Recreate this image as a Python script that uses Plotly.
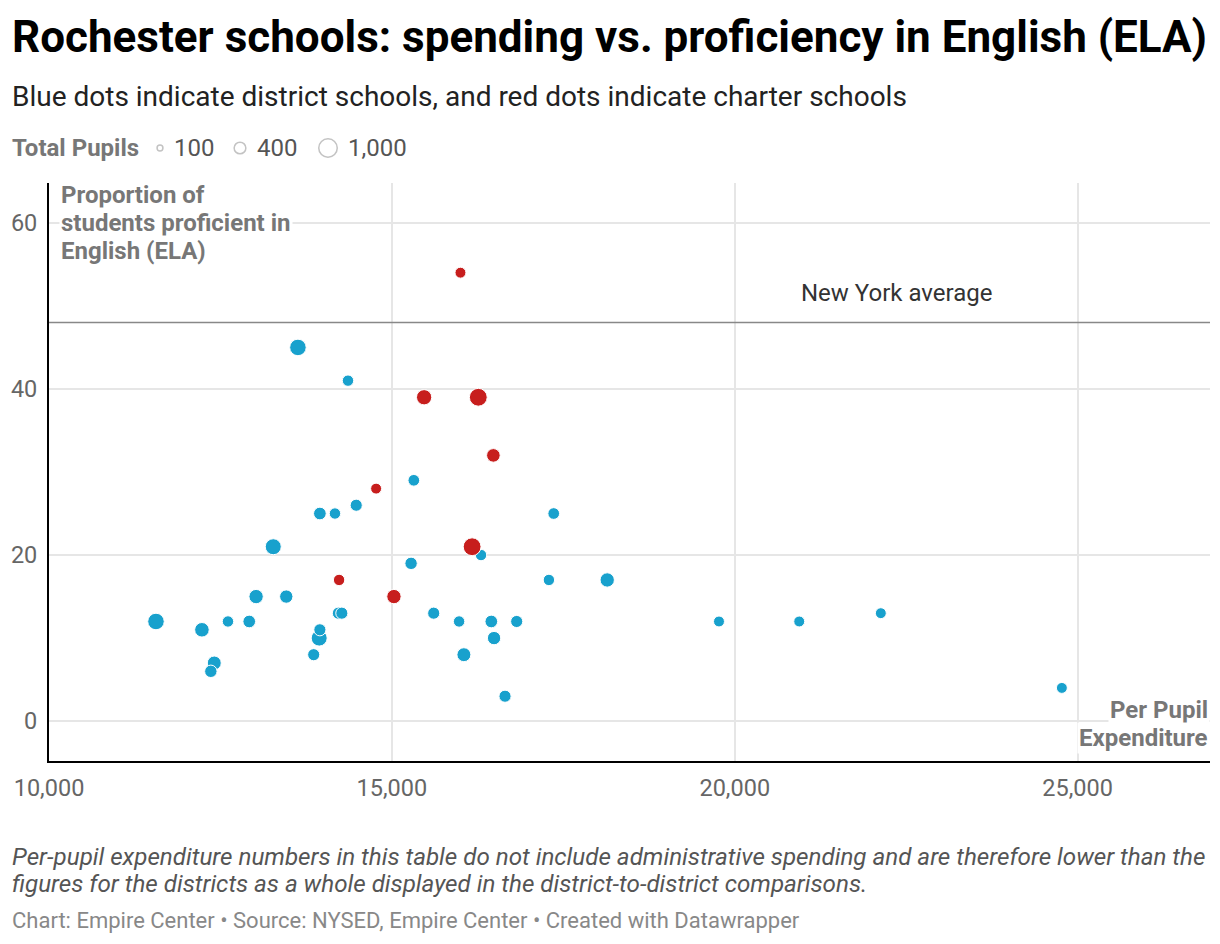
import plotly.graph_objects as go

# district schools (blue)
district_spend = [13630, 14360, 15320, 13950, 14170, 14480, 17360, 13270, 16300, 15280,
                  17290, 18140, 11560, 12230, 12610, 12920, 13020, 13460, 12410, 12360,
                  13860, 13950, 13940, 14220, 14270, 15610, 15980, 16050, 16450, 16490,
                  16820, 16650, 19770, 20940, 22130, 24770]
district_prof = [45, 41, 29, 25, 25, 26, 25, 21, 20, 19,
                 17, 17, 12, 11, 12, 12, 15, 15, 7, 6,
                 8, 11, 10, 13, 13, 13, 12, 8, 12, 10,
                 12, 3, 12, 12, 13, 4]
district_pupils = [800, 380, 400, 470, 380, 430, 400, 750, 380, 450,
                   380, 600, 800, 620, 380, 470, 600, 520, 570, 450,
                   430, 430, 750, 430, 430, 430, 380, 570, 470, 520,
                   430, 430, 350, 350, 350, 350]

# charter schools (red)
charter_spend = [16000, 15470, 16260, 16480, 14770, 16170, 14230, 15030]
charter_prof = [54, 39, 39, 32, 28, 21, 17, 15]
charter_pupils = [350, 680, 930, 540, 350, 930, 380, 600]

ny_average = 48

legend_pupils = [100, 400, 1000]
legend_labels = ["100", "400", "1,000"]
legend_pos = [160, 240, 328]

x_ticks = [10000, 15000, 20000, 25000]
x_ticktext = ["10,000", "15,000", "20,000", "25,000"]
y_ticks = [0, 20, 40, 60]

BLUE = "#18a1cd"
RED = "#c71e1d"
FONT = "Roboto"
sizeref = 2 * 1000 / 18.5 ** 2

H = 641  # plot-area height in px (paper)


def py(pix):
    # page pixel row -> paper y
    return (761 - pix) / H


def sorted_by_size(xs, ys, ss):
    rows = sorted(zip(xs, ys, ss), key=lambda r: -r[2])
    return [r[0] for r in rows], [r[1] for r in rows], [r[2] for r in rows]


fig = go.Figure()

for xs, ys, ss, col, name in [(district_spend, district_prof, district_pupils, BLUE, "District"),
                              (charter_spend, charter_prof, charter_pupils, RED, "Charter")]:
    sx, sy, ssz = sorted_by_size(xs, ys, ss)
    fig.add_trace(go.Scatter(
        x=sx, y=sy, mode="markers", name=name,
        marker=dict(size=ssz, sizemode="area", sizeref=sizeref, color=col,
                    line=dict(color="white", width=1), opacity=1),
        showlegend=False, hoverinfo="skip"))

# size legend on its own hidden axis
fig.add_trace(go.Scatter(
    x=legend_pos, y=[0, 0, 0], xaxis="x2", yaxis="y2", mode="markers",
    marker=dict(size=legend_pupils, sizemode="area", sizeref=sizeref,
                color="rgba(0,0,0,0)", line=dict(color="#aaaaaa", width=1.5)),
    showlegend=False, hoverinfo="skip"))

top = py(183)

fig.add_hline(y=ny_average, line=dict(color="#888888", width=1.5))

ann = []


def text(t, x, y, size, color, xanchor="left", yanchor="middle", **kw):
    ann.append(dict(text=t, x=x, y=y, xref=kw.pop("xref", "paper"), yref=kw.pop("yref", "paper"),
                    xanchor=xanchor, yanchor=yanchor, showarrow=False,
                    font=dict(family=FONT, size=size, color=color), **kw))


text("<b>Rochester schools: spending vs. proficiency in English (ELA)</b>", 0, py(37), 44, "#000000")
text("Blue dots indicate district schools, and red dots indicate charter schools", 0, py(97), 28, "#222222")
text("<b>Total Pupils</b>", 0, py(148), 24, "#777777")
for lab, pos, p in zip(legend_labels, legend_pos, legend_pupils):
    r = (2 * p / sizeref) ** 0.5 / 2
    text(lab, pos, 0, 24, "#555555", xref="x2", yref="y2", xshift=r + 9)

for i, line in enumerate(["Proportion of", "students proficient in", "English (ELA)"]):
    text("<b>%s</b>" % line, (59 - 10) / 1200, py(195 + 28 * i), 24, "#777777", bgcolor="white")
for i, line in enumerate(["Per Pupil", "Expenditure"]):
    text("<b>%s</b>" % line, 1, py(710 + 28 * i), 24, "#777777", xanchor="right", bgcolor="white")

text("New York average", 22360, ny_average, 24, "#333333", xanchor="center", yanchor="bottom",
     xref="x", yref="y", yshift=14)

text("<i>Per-pupil expenditure numbers in this table do not include administrative spending and are therefore lower than the</i>",
     0, py(857), 24.2, "#555555")
text("<i>figures for the districts as a whole displayed in the district-to-district comparisons.</i>",
     0, py(884), 24.2, "#555555")
text("Chart: Empire Center • Source: NYSED, Empire Center • Created with Datawrapper", 0, py(920), 22, "#888888")

# the page adds an 8px body margin, so the figure is 8px smaller and shifted up/left
fig.update_layout(
    width=1212, height=936,
    margin=dict(l=2, r=10, t=112, b=183),
    paper_bgcolor="white", plot_bgcolor="white",
    font=dict(family=FONT, size=22, color="#666666"),
    annotations=ann,
    xaxis=dict(domain=[39 / 1200, 1], range=[10000, 26930], tickvals=x_ticks, ticktext=x_ticktext,
               showgrid=True, gridcolor="#e6e6e6", gridwidth=1.5, zeroline=False, automargin=False,
               showline=True, linecolor="#000000", linewidth=2, ticks="",
               ticklabelstandoff=5, tickfont=dict(family=FONT, size=23.5, color="#666666")),
    yaxis=dict(domain=[0, top], range=[-4.8, 64.8], tickvals=y_ticks, automargin=False,
               showgrid=True, gridcolor="#e6e6e6", gridwidth=1.5, zeroline=False,
               showline=True, linecolor="#000000", linewidth=2, ticks="",
               ticklabelstandoff=5, tickfont=dict(family=FONT, size=23.5, color="#666666")),
    xaxis2=dict(domain=[0, 1], range=[10, 1210], anchor="y2", visible=False, automargin=False),
    yaxis2=dict(domain=[py(166), py(130)], range=[-1, 1], anchor="x2", visible=False, automargin=False),
)

fig.write_html("out.html")
